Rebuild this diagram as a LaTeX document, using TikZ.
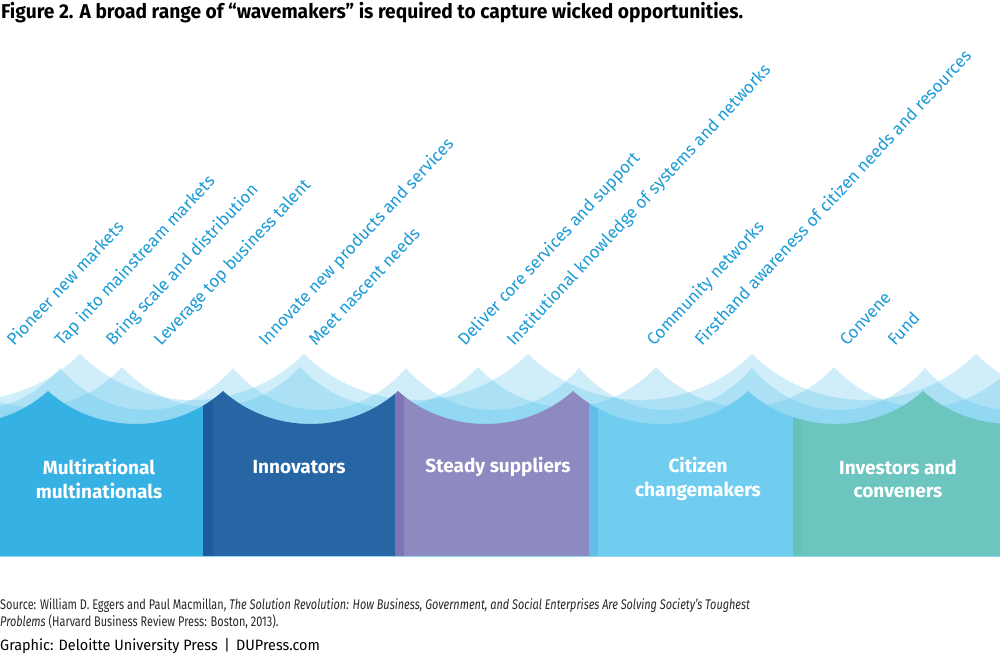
\documentclass[tikz,border=0pt]{standalone}
\usepackage{fontspec}
\usepackage{xcolor}
\setmainfont{Fira Sans}
\newfontfamily\condfont[FakeStretch=0.78]{Fira Sans}
\newfontfamily\titlefont[FakeStretch=0.96]{Fira Sans}
\definecolor{waveblue}{RGB}{77,191,234}
\definecolor{labelblue}{RGB}{28,154,214}
\definecolor{multiblue}{RGB}{54,177,227}
\definecolor{innoblue}{RGB}{39,102,165}
\definecolor{innostrip}{RGB}{31,92,158}
\definecolor{steadypurple}{RGB}{142,138,193}
\definecolor{steadystrip}{RGB}{127,116,181}
\definecolor{citizenblue}{RGB}{113,205,240}
\definecolor{citizenstrip}{RGB}{98,189,232}
\definecolor{investteal}{RGB}{108,198,191}
\definecolor{investstrip}{RGB}{101,193,185}

\tikzset{
  wavelabel/.style={rotate=47, anchor=base west, inner sep=0pt, text=labelblue,
    font=\fontsize{17}{20}\selectfont},
  colname/.style={text=white, align=center, inner sep=0pt,
    font=\fontsize{19}{23.5}\selectfont\bfseries},
  wavelayer/.style={fill=waveblue, fill opacity=0.27},
  notetext/.style={anchor=base west, inner sep=0pt, text=black!85,
    font=\condfont\fontsize{14}{17}\selectfont},
}

% scalloped wave: first peak x, period, peak y, sag
\newcommand{\wavetop}[4]{({#1-2*#2},#3) \foreach \k in {-2,...,6} {
    .. controls ({#1+(\k+0.28)*#2},{#3+1.333*#4}) and ({#1+(\k+0.72)*#2},{#3+1.333*#4}) .. ({#1+(\k+1)*#2},#3)}
  -- ({#1+7*#2},600) -- ({#1-2*#2},600) -- cycle}

\begin{document}
\begin{tikzpicture}[x=1pt,y=-1pt]
  \useasboundingbox (0,0) rectangle (1000,658);

  \node[anchor=base west, inner sep=0pt, font=\titlefont\bfseries\fontsize{20}{23}\selectfont] (title) at (1,19)
    {Figure 2. A broad range of “wavemakers” is required to capture wicked opportunities.};

  \begin{scope}
    \clip (0,0) rectangle (1000,556);
    % waves behind
    \fill[wavelayer] \wavetop{80}{224}{354}{46};
    \fill[wavelayer] \wavetop{122}{178}{367}{40};
    \fill[wavelayer] \wavetop{60}{173}{368}{42};
    % front wave, one colour per group
    \clip \wavetop{48}{175}{391}{33};
    \fill[multiblue] (0,300) rectangle (203,556);
    \fill[innostrip] (203,300) rectangle (213,556);
    \fill[innoblue] (213,300) rectangle (395,556);
    \fill[steadystrip] (395,300) rectangle (404,556);
    \fill[steadypurple] (404,300) rectangle (589,556);
    \fill[citizenstrip] (589,300) rectangle (598,556);
    \fill[citizenblue] (598,300) rectangle (793,556);
    \fill[investstrip] (793,300) rectangle (801,556);
    \fill[investteal] (801,300) rectangle (1000,556);
  \end{scope}

  \node[colname] (multi) at (99,479) {Multirational\\multinationals};
  \node[colname] (innovators) at (299,467) {Innovators};
  \node[colname] (steady) at (498,467) {Steady suppliers};
  \node[colname] (citizen) at (698,479) {Citizen\\changemakers};
  \node[colname] (investors) at (898,479) {Investors and\\conveners};

  \node[wavelabel] (pioneer) at (14,347) {Pioneer new markets};
  \node[wavelabel] (tap) at (62,347) {Tap into mainstream markets};
  \node[wavelabel] (bring) at (113,347) {Bring scale and distribution};
  \node[wavelabel] (leverage) at (161,347) {Leverage top business talent};
  \node[wavelabel] (innovate) at (266,347) {Innovate new products and services};
  \node[wavelabel] (meet) at (316,347) {Meet nascent needs};
  \node[wavelabel] (deliver) at (465,347) {Deliver core services and support};
  \node[wavelabel] (knowledge) at (514,347) {Institutional knowledge of systems and networks};
  \node[wavelabel] (community) at (654,347) {Community networks};
  \node[wavelabel] (firsthand) at (702,347) {Firsthand awareness of citizen needs and resources};
  \node[wavelabel] (convene) at (847,347) {Convene};
  \node[wavelabel] (fund) at (895,347) {Fund};

  \node[notetext] (source) at (0,609) {Source: William D. Eggers and Paul Macmillan, \textit{The Solution Revolution: How Business, Government, and Social Enterprises Are Solving Society’s Toughest}};
  \node[notetext] (source2) at (0,626) {\textit{Problems} (Harvard Business Review Press: Boston, 2013).};
  \node[notetext, font=\titlefont\fontsize{15}{18}\selectfont, text=black] (graphic) at (0,650) {Graphic: Deloitte University Press \,|\, DUPress.com};
\end{tikzpicture}
\end{document}
